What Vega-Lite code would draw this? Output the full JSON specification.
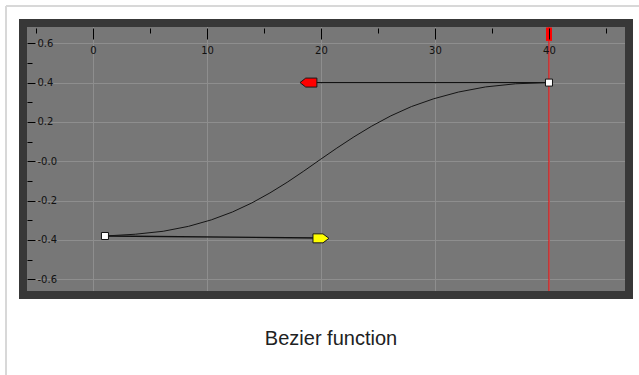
{
  "$schema": "https://vega.github.io/schema/vega-lite/v6.json",
  "width": 606,
  "height": 272,
  "autosize": {"type": "none"},
  "padding": {"left": 23, "top": 23, "right": 10, "bottom": 80},
  "background": "white",
  "view": {"fill": "#777777", "stroke": null},
  "title": {
    "text": "Bezier function",
    "orient": "bottom",
    "anchor": "middle",
    "frame": "group",
    "baseline": "alphabetic",
    "offset": -31,
    "dx": 5,
    "font": "Liberation Sans",
    "fontSize": 20,
    "fontWeight": "normal",
    "color": "#202122"
  },
  "config": {
    "view": {"fill": "#777777", "stroke": null},
    "axis": {
      "labelFont": "DejaVu Sans",
      "labelFontSize": 10,
      "labelColor": "#111111",
      "tickColor": "#000000",
      "tickWidth": 1,
      "domain": false,
      "labelFlush": false,
      "labelOverlap": false
    }
  },
  "datasets": {
    "frame": [
      {"x": -7.63, "y": 0.79, "x2": 48.5, "y2": 0.79},
      {"x": -7.63, "y": 0.79, "x2": -7.63, "y2": -1.087}
    ],
    "handles": [
      {"h": "start", "x": 1.05, "y": -0.38},
      {"h": "start", "x": 20, "y": -0.39},
      {"h": "end", "x": 40, "y": 0.4},
      {"h": "end", "x": 18.9, "y": 0.4}
    ],
    "curve": [
      {"x": 1.05, "y": -0.38},
      {"x": 3.71, "y": -0.371},
      {"x": 6.16, "y": -0.356},
      {"x": 8.37, "y": -0.331},
      {"x": 10.38, "y": -0.298},
      {"x": 12.23, "y": -0.258},
      {"x": 13.93, "y": -0.212},
      {"x": 15.52, "y": -0.161},
      {"x": 17.03, "y": -0.107},
      {"x": 18.49, "y": -0.05},
      {"x": 19.94, "y": 0.009},
      {"x": 21.39, "y": 0.067},
      {"x": 22.89, "y": 0.124},
      {"x": 24.46, "y": 0.179},
      {"x": 26.13, "y": 0.231},
      {"x": 27.93, "y": 0.278},
      {"x": 29.9, "y": 0.318},
      {"x": 32.06, "y": 0.352},
      {"x": 34.44, "y": 0.378},
      {"x": 37.08, "y": 0.394},
      {"x": 40, "y": 0.4}
    ],
    "playhead": [{"x": 40, "top": 0.68, "knob": 0.612}],
    "outHandle": [{"x": 20, "y": -0.392}],
    "inHandle": [{"x": 18.9, "y": 0.4}],
    "keys": [{"x": 1.05, "y": -0.38}, {"x": 40, "y": 0.4}],
    "panel": [{"name": "panel"}]
  },
  "resolve": {"axis": {"x": "independent", "y": "independent"}},
  "layer": [
    {
      "data": {"name": "frame"},
      "mark": {"type": "rule", "color": "#d8d8d8", "strokeWidth": 2},
      "encoding": {
        "x": {"field": "x", "type": "quantitative", "axis": null, "scale": {"domain": [-6.14, 47.02], "nice": false, "zero": false}},
        "x2": {"field": "x2"},
        "y": {"field": "y", "type": "quantitative", "axis": null, "scale": {"domain": [-0.68, 0.703], "nice": false, "zero": false}},
        "y2": {"field": "y2"}
      }
    },
    {
      "data": {"name": "handles"},
      "mark": {"type": "line", "color": "#111111", "strokeWidth": 1.4},
      "encoding": {
        "x": {"field": "x", "type": "quantitative", "scale": {"domain": [-6.14, 47.02], "nice": false, "zero": false},
          "axis": {"orient": "top", "title": null, "grid": true, "ticks": false, "labels": false, "domain": false, "values": [0, 10, 20, 30, 40], "gridColor": "#8e8e8e", "gridWidth": 1, "gridOpacity": 1, "zindex": 0}},
        "y": {"field": "y", "type": "quantitative", "scale": {"domain": [-0.68, 0.703], "nice": false, "zero": false},
          "axis": {"orient": "left", "title": null, "grid": true, "ticks": false, "labels": false, "domain": false, "values": [-0.6, -0.4, -0.2, 0, 0.2, 0.4, 0.6], "gridColor": "#8e8e8e", "gridWidth": 1, "gridOpacity": 1, "zindex": 0}},
        "detail": {"field": "h", "type": "nominal"}
      }
    },
    {
      "data": {"name": "curve"},
      "mark": {"type": "line", "color": "#151515", "strokeWidth": 1},
      "encoding": {
        "x": {"field": "x", "type": "quantitative", "scale": {"domain": [-6.14, 47.02], "nice": false, "zero": false},
          "axis": {"orient": "top", "title": null, "grid": false, "domain": false, "values": [0, 10, 20, 30, 40], "offset": -16, "tickSize": 11, "labelPadding": -22, "labelBaseline": "middle", "labelAlign": "center", "zindex": 1}},
        "y": {"field": "y", "type": "quantitative", "scale": {"domain": [-0.68, 0.703], "nice": false, "zero": false},
          "axis": {"orient": "left", "title": null, "grid": false, "domain": false, "values": [-0.6, -0.4, -0.2, 0, 0.2, 0.4, 0.6], "offset": -12, "tickSize": 8, "labelPadding": -10, "labelAlign": "left", "labelBaseline": "middle", "labelExpr": "datum.value == 0 ? '-0.0' : (datum.value < 0 ? '-' : '') + format(abs(datum.value), '.1f')", "zindex": 1}}
      }
    },
    {
      "data": {"name": "playhead"},
      "mark": {"type": "rule", "color": "#ff0000", "strokeWidth": 1},
      "encoding": {
        "x": {"field": "x", "type": "quantitative", "axis": null, "scale": {"domain": [-6.14, 47.02], "nice": false, "zero": false}}
      }
    },
    {
      "data": {"name": "playhead"},
      "mark": {"type": "rule", "color": "#ff0000", "strokeWidth": 6},
      "encoding": {
        "x": {"field": "x", "type": "quantitative", "axis": null, "scale": {"domain": [-6.14, 47.02], "nice": false, "zero": false}},
        "y": {"field": "top", "type": "quantitative", "axis": null, "scale": {"domain": [-0.68, 0.703], "nice": false, "zero": false}},
        "y2": {"field": "knob"}
      }
    },
    {
      "data": {"name": "inHandle"},
      "mark": {"type": "point", "filled": true, "fill": "#ff0000", "stroke": "#1a1a1a", "strokeWidth": 1, "opacity": 1, "size": 324, "shape": "M -0.94 0 L -0.3 -0.5 L 0.94 -0.5 L 0.94 0.5 L -0.3 0.5 Z"},
      "encoding": {
        "x": {"field": "x", "type": "quantitative", "axis": null, "scale": {"domain": [-6.14, 47.02], "nice": false, "zero": false}},
        "y": {"field": "y", "type": "quantitative", "axis": null, "scale": {"domain": [-0.68, 0.703], "nice": false, "zero": false}}
      }
    },
    {
      "data": {"name": "outHandle"},
      "mark": {"type": "point", "filled": true, "fill": "#ffff00", "stroke": "#1a1a1a", "strokeWidth": 1, "opacity": 1, "size": 324, "shape": "M -0.89 -0.5 L 0.22 -0.5 L 0.89 0 L 0.22 0.5 L -0.89 0.5 Z"},
      "encoding": {
        "x": {"field": "x", "type": "quantitative", "axis": null, "scale": {"domain": [-6.14, 47.02], "nice": false, "zero": false}},
        "y": {"field": "y", "type": "quantitative", "axis": null, "scale": {"domain": [-0.68, 0.703], "nice": false, "zero": false}}
      }
    },
    {
      "data": {"name": "keys"},
      "mark": {"type": "point", "shape": "square", "filled": true, "fill": "#ffffff", "stroke": "#111111", "strokeWidth": 1, "opacity": 1, "size": 49},
      "encoding": {
        "x": {"field": "x", "type": "quantitative", "scale": {"domain": [-6.14, 47.02], "nice": false, "zero": false},
          "axis": {"orient": "top", "title": null, "grid": false, "labels": false, "domain": false, "values": [-5, 5, 15, 25, 35, 45], "offset": -10, "tickSize": 5, "zindex": 1}},
        "y": {"field": "y", "type": "quantitative", "scale": {"domain": [-0.68, 0.703], "nice": false, "zero": false},
          "axis": {"orient": "left", "title": null, "grid": false, "labels": false, "domain": false, "values": [-0.5, -0.3, -0.1, 0.1, 0.3, 0.5], "offset": -9, "tickSize": 5, "zindex": 1}}
      }
    },
    {
      "data": {"name": "panel"},
      "mark": {"type": "rect", "filled": false, "stroke": "#383838", "strokeWidth": 8, "opacity": 1}
    }
  ]
}
